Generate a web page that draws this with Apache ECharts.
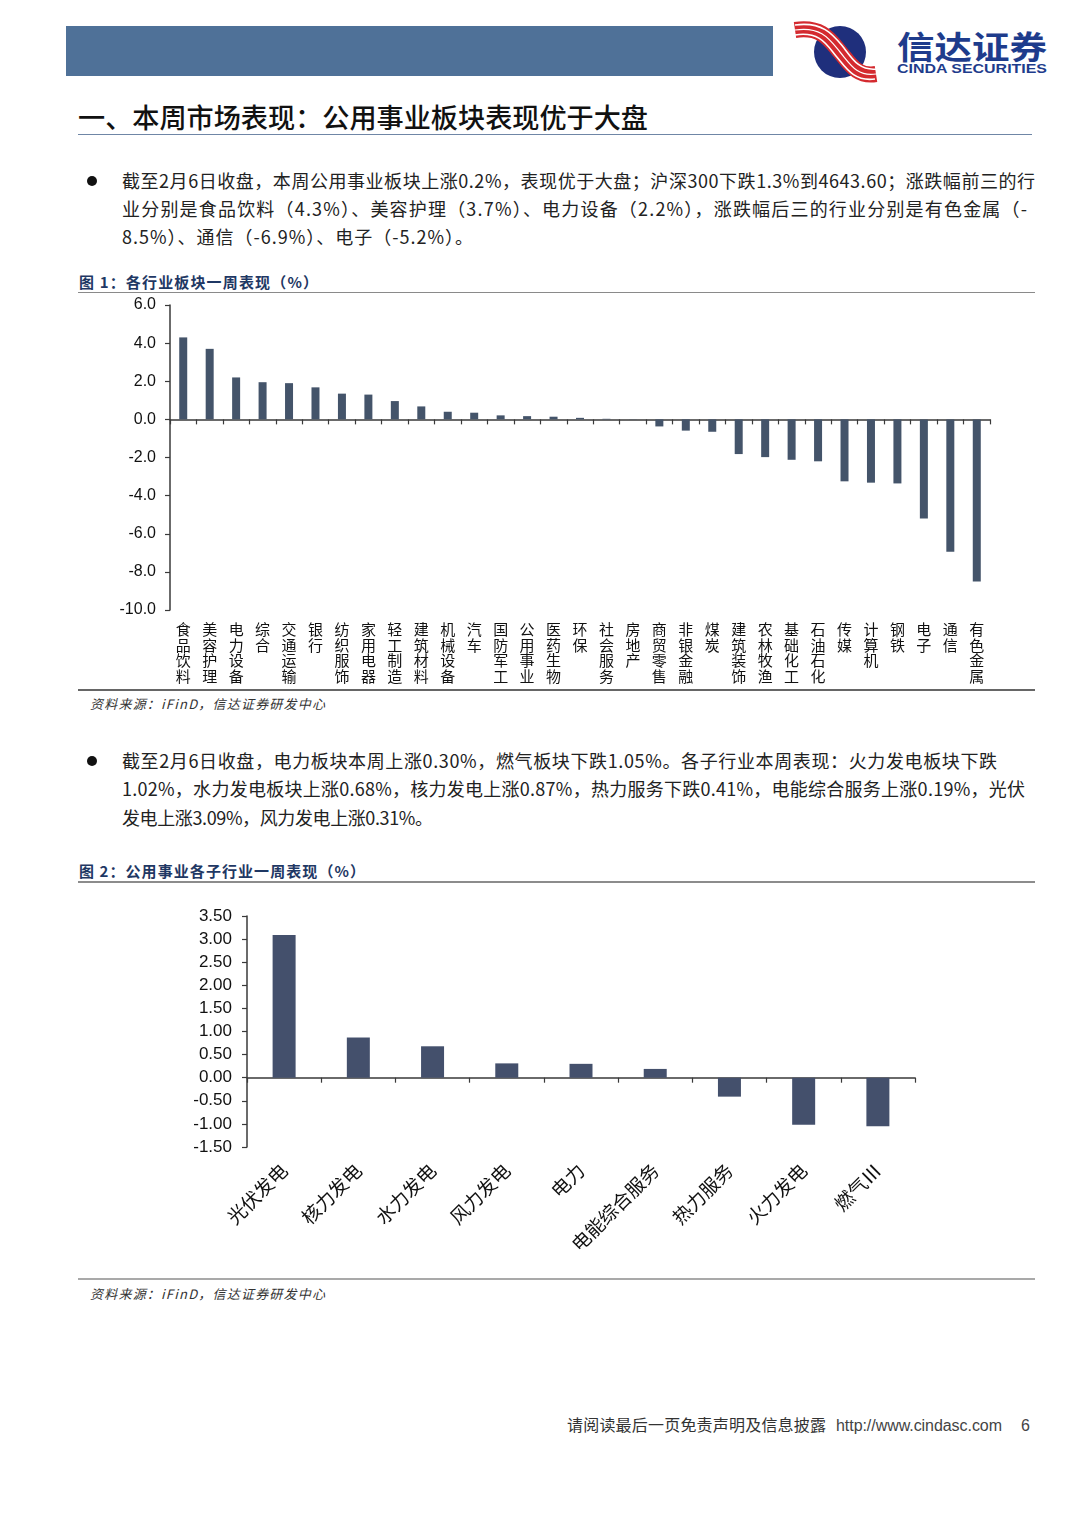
<!DOCTYPE html>
<html>
<head>
<meta charset="utf-8">
<script src="https://cdn.jsdelivr.net/npm/echarts@6/dist/echarts.min.js"></script>
<style>
  html,body{margin:0;padding:0;background:#fff;}
  #page{position:relative;width:1080px;height:1527px;overflow:hidden;background:#fff;}
  #deco{position:absolute;left:0;top:0;}
  #chart{position:absolute;left:0;top:0;width:1080px;height:1527px;}
  .cjk{font-family:"Noto Sans CJK SC","Noto Sans",sans-serif;}
</style>
</head>
<body>
<div id="page">
<svg id="deco" width="1080" height="1527" xmlns="http://www.w3.org/2000/svg">
  <!-- header -->
  <rect x="66" y="26" width="707" height="50" fill="#4f7198"/>
  <circle cx="840" cy="52" r="26" fill="#1f2f7c"/>
  <path d="M795,30 C822,26 830,40 840,52 C850,64 857,77 876,74" stroke="#d42a2f" stroke-width="16" fill="none"/>
  <path d="M795,25 C824,21 834,36 844,48 C853,60 860,71 877,69" stroke="#fff" stroke-width="1.6" fill="none"/>
  <path d="M795,35 C820,31 827,45 836,56 C846,68 854,82 875,79" stroke="#fff" stroke-width="1.6" fill="none"/>
  <path d="M795,30 C822,26 830,40 840,52 C850,64 857,77 876,74" stroke="#fff" stroke-width="1.2" fill="none"/>
  <text class="cjk" x="897" y="59" font-size="32" font-weight="bold" fill="#1e3c8c" textLength="150" lengthAdjust="spacingAndGlyphs">信达证券</text>
  <text x="897" y="73" font-family="Liberation Sans, Arial, sans-serif" font-size="13" font-weight="bold" fill="#1e3c8c" textLength="150" lengthAdjust="spacingAndGlyphs">CINDA SECURITIES</text>

  <!-- heading -->
  <text class="cjk" x="78" y="128" font-size="27" font-weight="500" fill="#111" textLength="570" lengthAdjust="spacingAndGlyphs">一、本周市场表现：公用事业板块表现优于大盘</text>
  <line x1="78" y1="134.5" x2="1032" y2="134.5" stroke="#6f86a6" stroke-width="1"/>

  <!-- paragraph 1 -->
  <circle cx="92" cy="181" r="5" fill="#111"/>
  <text class="cjk" x="122" y="188" font-size="18" fill="#222" textLength="913" lengthAdjust="spacing">截至2月6日收盘，本周公用事业板块上涨0.2%，表现优于大盘；沪深300下跌1.3%到4643.60；涨跌幅前三的行</text>
  <text class="cjk" x="122" y="216" font-size="18" fill="#222" textLength="905" lengthAdjust="spacing">业分别是食品饮料（4.3%）、美容护理（3.7%）、电力设备（2.2%），涨跌幅后三的行业分别是有色金属（-</text>
  <text class="cjk" x="122" y="244" font-size="18" fill="#222" textLength="351" lengthAdjust="spacing">8.5%）、通信（-6.9%）、电子（-5.2%）。</text>

  <!-- figure 1 title -->
  <text class="cjk" x="79" y="288" font-size="15" font-weight="bold" fill="#1f3864" textLength="239" lengthAdjust="spacing">图 1：各行业板块一周表现（%）</text>
  <line x1="78" y1="292.5" x2="1035" y2="292.5" stroke="#8a8a8a" stroke-width="1"/>
  <line x1="78" y1="690" x2="1035" y2="690" stroke="#333" stroke-width="1.5"/>
  <text class="cjk" x="90" y="709" font-size="13" font-style="italic" fill="#333" textLength="235" lengthAdjust="spacing">资料来源：iFinD，信达证券研发中心</text>

  <!-- paragraph 2 -->
  <circle cx="92" cy="761" r="5" fill="#111"/>
  <text class="cjk" x="122" y="768" font-size="18" fill="#222" textLength="875" lengthAdjust="spacing">截至2月6日收盘，电力板块本周上涨0.30%，燃气板块下跌1.05%。各子行业本周表现：火力发电板块下跌</text>
  <text class="cjk" x="122" y="796" font-size="18" fill="#222" textLength="903" lengthAdjust="spacing">1.02%，水力发电板块上涨0.68%，核力发电上涨0.87%，热力服务下跌0.41%，电能综合服务上涨0.19%，光伏</text>
  <text class="cjk" x="122" y="825" font-size="18" fill="#222" textLength="311" lengthAdjust="spacing">发电上涨3.09%，风力发电上涨0.31%。</text>

  <!-- figure 2 title -->
  <text class="cjk" x="79" y="877" font-size="15" font-weight="bold" fill="#1f3864" textLength="286" lengthAdjust="spacing">图 2：公用事业各子行业一周表现（%）</text>
  <line x1="78" y1="882" x2="1035" y2="882" stroke="#666" stroke-width="1.5"/>
  <line x1="78" y1="1279" x2="1035" y2="1279" stroke="#555" stroke-width="1.2"/>
  <text class="cjk" x="90" y="1299" font-size="13" font-style="italic" fill="#333" textLength="235" lengthAdjust="spacing">资料来源：iFinD，信达证券研发中心</text>

  <!-- footer -->
  <text class="cjk" x="567" y="1431" font-size="16" fill="#333" textLength="259" lengthAdjust="spacing">请阅读最后一页免责声明及信息披露</text>
  <text x="836" y="1431" font-family="Liberation Sans, Arial, sans-serif" font-size="16" fill="#444" textLength="166" lengthAdjust="spacing">http://www.cindasc.com</text>
  <text x="1021" y="1431" font-family="Liberation Sans, Arial, sans-serif" font-size="16" fill="#444">6</text>
</svg>
<div id="chart"></div>
</div>
<script>
// ---- Figure 1 data ----
const industryNames = ['食品饮料','美容护理','电力设备','综合','交通运输','银行','纺织服饰','家用电器','轻工制造','建筑材料','机械设备','汽车','国防军工','公用事业','医药生物','环保','社会服务','房地产','商贸零售','非银金融','煤炭','建筑装饰','农林牧渔','基础化工','石油石化','传媒','计算机','钢铁','电子','通信','有色金属'];
const industryReturns = [4.3, 3.7, 2.2, 1.95, 1.9, 1.68, 1.35, 1.3, 0.96, 0.68, 0.4, 0.35, 0.21, 0.17, 0.14, 0.08, 0.03, 0.01, -0.37, -0.59, -0.65, -1.82, -1.98, -2.12, -2.2, -3.25, -3.32, -3.36, -5.2, -6.95, -8.5];
const fig1Ticks = {min: -10, max: 6, interval: 2};

// ---- Figure 2 data ----
const subNames = ['光伏发电','核力发电','水力发电','风力发电','电力','电能综合服务','热力服务','火力发电','燃气Ⅲ'];
const subReturns = [3.09, 0.87, 0.68, 0.31, 0.30, 0.19, -0.41, -1.02, -1.05];
const fig2Ticks = {min: -1.5, max: 3.5, interval: 0.5};

const axisColor = '#3a3a3a';
const chart = echarts.init(document.getElementById('chart'), null, {renderer: 'canvas'});
chart.setOption({
  animation: false,
  backgroundColor: 'transparent',
  grid: [
    {left: 170, top: 305, width: 820, height: 305},
    {left: 247, top: 916, width: 668, height: 231}
  ],
  xAxis: [
    {
      gridIndex: 0, type: 'category', data: industryNames,
      axisLine: {onZero: true, lineStyle: {color: axisColor, width: 1.5}},
      axisTick: {show: true, length: 5, lineStyle: {color: axisColor, width: 1.2}},
      axisLabel: {
        interval: 0, margin: 12, color: '#111', fontSize: 15, lineHeight: 15.5,
        fontFamily: 'Noto Sans CJK SC', verticalAlign: 'top',
        formatter: v => v.split('').join('\n')
      },
      splitLine: {show: false}
    },
    {
      gridIndex: 1, type: 'category', data: subNames,
      axisLine: {onZero: true, lineStyle: {color: axisColor, width: 1.5}},
      axisTick: {show: true, length: 5, lineStyle: {color: axisColor, width: 1.2}},
      axisLabel: {
        interval: 0, margin: 20, rotate: 45, color: '#111', fontSize: 19,
        fontFamily: 'Noto Sans CJK SC'
      },
      splitLine: {show: false}
    }
  ],
  yAxis: [
    {
      gridIndex: 0, type: 'value', min: fig1Ticks.min, max: fig1Ticks.max, interval: fig1Ticks.interval,
      axisLine: {show: true, lineStyle: {color: axisColor, width: 1.5}},
      axisTick: {show: true, length: 5, lineStyle: {color: axisColor, width: 1.2}},
      splitLine: {show: false},
      axisLabel: {margin: 14, fontSize: 16, color: '#111', fontFamily: 'Liberation Sans', formatter: v => v.toFixed(1)}
    },
    {
      gridIndex: 1, type: 'value', min: fig2Ticks.min, max: fig2Ticks.max, interval: fig2Ticks.interval,
      axisLine: {show: true, lineStyle: {color: axisColor, width: 1.5}},
      axisTick: {show: true, length: 5, lineStyle: {color: axisColor, width: 1.2}},
      splitLine: {show: false},
      axisLabel: {margin: 15, fontSize: 17, color: '#111', fontFamily: 'Liberation Sans', formatter: v => v.toFixed(2)}
    }
  ],
  series: [
    {type: 'bar', xAxisIndex: 0, yAxisIndex: 0, data: industryReturns, barWidth: 8,
     itemStyle: {color: '#44546a'}},
    {type: 'bar', xAxisIndex: 1, yAxisIndex: 1, data: subReturns, barWidth: 23,
     itemStyle: {color: '#44506c'}}
  ]
});
</script>
</body>
</html>
